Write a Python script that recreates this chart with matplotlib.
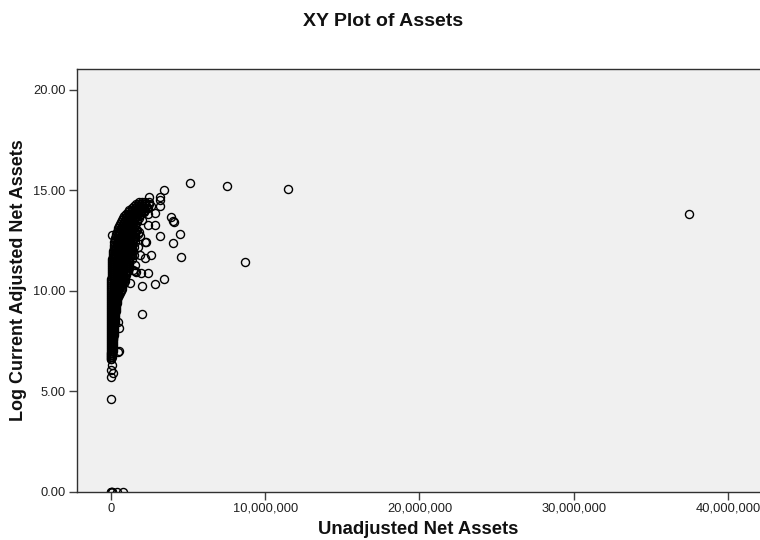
import numpy as np
import matplotlib
matplotlib.use('Agg')
import matplotlib.pyplot as plt
from matplotlib.ticker import FuncFormatter

plt.rcParams['font.family'] = ['Liberation Sans', 'DejaVu Sans']

# dense part of the cloud, read row by row: log value -> net assets in millions
rows = {
    14.4: [1.85, 2.05, 2.25, 2.5],
    14.3: [1.65, 1.85, 2.05, 2.25, 2.45],
    14.2: [1.5, 1.7, 1.9, 2.1, 2.3, 2.6],
    14.1: [1.35, 1.55, 1.75, 1.95, 2.15, 2.35],
    14.0: [1.2, 1.4, 1.6, 1.8, 2.0, 2.2],
    13.9: [1.1, 1.3, 1.5, 1.7, 1.9, 2.1],
    13.8: [0.98, 1.15, 1.35, 1.55, 1.75, 1.95],
    13.7: [0.88, 1.05, 1.25, 1.45, 1.65, 1.85],
    13.6: [0.8, 1.0, 1.2, 1.4, 1.6, 1.8],
    13.5: [0.72, 0.9, 1.1, 1.3, 1.5, 1.7],
    13.4: [0.66, 0.85, 1.05, 1.25, 1.45, 1.7],
    13.3: [0.6, 0.8, 1.0, 1.2, 1.4, 1.6],
    13.2: [0.54, 0.75, 0.95, 1.15, 1.35, 1.6],
    13.1: [0.49, 0.7, 0.9, 1.1, 1.3, 1.5],
    13.0: [0.44, 0.65, 0.85, 1.05, 1.25, 1.45, 1.65],
    12.9: [0.4, 0.6, 0.8, 1.0, 1.2, 1.4, 1.6],
    12.8: [0.36, 0.55, 0.75, 0.95, 1.15, 1.35, 1.55, 1.75],
    12.7: [0.33, 0.5, 0.7, 0.9, 1.1, 1.3, 1.5],
    12.6: [0.3, 0.45, 0.65, 0.85, 1.05, 1.25, 1.45, 1.6],
    12.5: [0.27, 0.45, 0.65, 0.85, 1.05, 1.25, 1.45],
    12.4: [0.24, 0.4, 0.6, 0.8, 1.0, 1.2, 1.4, 1.55],
    12.3: [0.22, 0.4, 0.6, 0.8, 1.0, 1.2, 1.4],
    12.2: [0.2, 0.35, 0.55, 0.75, 0.95, 1.15, 1.35, 1.5],
    12.1: [0.18, 0.35, 0.55, 0.75, 0.95, 1.15, 1.35],
    12.0: [0.16, 0.3, 0.5, 0.7, 0.9, 1.1, 1.3, 1.45],
    11.9: [0.15, 0.3, 0.5, 0.7, 0.9, 1.1, 1.3],
    11.8: [0.13, 0.25, 0.45, 0.65, 0.85, 1.05, 1.25, 1.4],
    11.7: [0.12, 0.25, 0.45, 0.65, 0.85, 1.05, 1.25],
    11.6: [0.11, 0.2, 0.4, 0.6, 0.8, 1.0, 1.2, 1.35],
    11.5: [0.1, 0.2, 0.4, 0.6, 0.8, 1.0, 1.2],
    11.4: [0.09, 0.2, 0.4, 0.6, 0.8, 1.0, 1.2],
    11.3: [0.08, 0.2, 0.4, 0.6, 0.8, 1.0, 1.15],
    11.2: [0.07, 0.2, 0.4, 0.6, 0.8, 1.0, 1.15],
    11.1: [0.07, 0.2, 0.4, 0.6, 0.8, 1.0],
    11.0: [0.06, 0.2, 0.4, 0.6, 0.8, 1.0, 1.1],
    10.9: [0.06, 0.2, 0.4, 0.6, 0.8, 1.0],
    10.8: [0.05, 0.2, 0.4, 0.6, 0.8, 1.0],
    10.7: [0.05, 0.2, 0.4, 0.6, 0.8, 0.95],
    10.6: [0.04, 0.2, 0.4, 0.6, 0.8, 0.95],
    10.5: [0.04, 0.2, 0.4, 0.6, 0.8, 0.9],
    10.4: [0.03, 0.2, 0.4, 0.6, 0.75, 0.85],
    10.3: [0.03, 0.2, 0.4, 0.6, 0.75],
    10.2: [0.03, 0.2, 0.4, 0.55, 0.7],
    10.1: [0.02, 0.2, 0.4, 0.55, 0.7],
    10.0: [0.02, 0.2, 0.35, 0.5, 0.65],
    9.9: [0.02, 0.15, 0.3, 0.45, 0.6],
    9.8: [0.02, 0.15, 0.3, 0.45, 0.55],
    9.7: [0.02, 0.15, 0.3, 0.45],
    9.6: [0.02, 0.15, 0.3, 0.4],
    9.5: [0.02, 0.15, 0.3, 0.4],
    9.4: [0.01, 0.12, 0.25, 0.38],
    9.3: [0.01, 0.12, 0.25, 0.35],
    9.2: [0.01, 0.12, 0.25, 0.35],
    9.1: [0.01, 0.12, 0.25, 0.33],
    9.0: [0.01, 0.12, 0.25, 0.33],
    8.9: [0.01, 0.1, 0.2, 0.3],
    8.8: [0.01, 0.1, 0.2, 0.3],
    8.7: [0.01, 0.1, 0.2, 0.28],
    8.6: [0.01, 0.1, 0.2, 0.28],
    8.5: [0.01, 0.1, 0.18, 0.25],
    8.4: [0.01, 0.1, 0.18, 0.25],
    8.3: [0.01, 0.08, 0.16, 0.24],
    8.2: [0.01, 0.08, 0.16, 0.22],
    8.1: [0.01, 0.08, 0.14, 0.2],
    8.0: [0.01, 0.08, 0.14, 0.2],
    7.9: [0.01, 0.06, 0.12, 0.18],
    7.8: [0.01, 0.06, 0.12, 0.18],
    7.7: [0.01, 0.06, 0.12, 0.16],
    7.6: [0.01, 0.06, 0.12, 0.15],
    7.5: [0.01, 0.05, 0.1, 0.14],
    7.4: [0.01, 0.05, 0.1, 0.14],
    7.3: [0.01, 0.05, 0.1, 0.13],
    7.2: [0.01, 0.05, 0.1, 0.13],
    7.1: [0.01, 0.05, 0.09, 0.12],
    7.0: [0.01, 0.05, 0.09, 0.12],
    6.9: [0.01, 0.04, 0.08, 0.1],
    6.8: [0.01, 0.04, 0.08, 0.1],
    6.7: [0.01, 0.03, 0.06],
    6.6: [0.01, 0.03],
}

# points that can be read one at a time, including the ragged edge of the cloud
single_x = [5.12, 7.56, 11.47, 37.45, 8.68, 4.54, 4.47, 4.0, 4.08, 3.93,
            4.04, 3.45, 3.22, 3.22, 3.22, 2.48, 2.85, 2.38, 2.85, 2.38,
            3.22, 2.27, 2.2, 2.59, 2.2, 1.88, 3.45, 2.85, 2.05, 2.05,
            2.4, 1.99, 1.66, 1.43, 1.25, 0.05, 0.02, 0.03, 0.13, 0.02,
            0.05, 0.45, 0.52, 0.5, 0.52, 1.7, 1.9, 1.75, 1.55, 1.5,
            2.0, 2.15, 2.4, 1.85, 1.6]
single_y = [15.38, 15.21, 15.06, 13.82, 11.41, 11.68, 12.82, 12.36, 13.4, 13.69,
            13.49, 15.01, 14.68, 14.52, 14.23, 14.68, 13.88, 13.8, 13.27, 13.27,
            12.74, 12.41, 12.4, 11.78, 11.61, 11.78, 10.58, 10.32, 10.25, 8.85,
            10.88, 10.87, 10.93, 11.03, 10.38, 12.77, 4.59, 5.72, 5.9, 6.05,
            6.3, 6.96, 7.0, 8.44, 8.14, 13.0, 12.7, 12.2, 11.3, 11.8,
            13.5, 13.9, 14.1, 12.9, 11.0]

# records sitting on the zero line
zero_x = [0.0, 0.03, 0.05, 0.1, 0.4, 0.78]

x_ticks = [0, 10000000, 20000000, 30000000, 40000000]
y_ticks = [0, 5, 10, 15, 20]


def main():
    xs = [v for row in rows.values() for v in row] + single_x + zero_x
    ys = [y for y, row in rows.items() for _ in row] + single_y + [0.0] * len(zero_x)

    fig = plt.figure(figsize=(7.6, 5.4), dpi=100)
    ax = fig.add_axes([76.5 / 760, 1 - 491.5 / 540, 1 - 76.5 / 760, (491.5 - 69) / 540])
    ax.set_facecolor('#f0f0f0')

    ax.plot(np.array(xs) * 1e6, ys, linestyle='none', marker='o', markersize=5.8,
            markerfacecolor='none', markeredgecolor='black', markeredgewidth=1.0)

    ax.set_xlim(-2.22e6, 42.06e6)
    ax.set_ylim(0, 21.04)
    ax.set_xticks(x_ticks)
    ax.set_yticks(y_ticks)
    ax.xaxis.set_major_formatter(FuncFormatter(lambda v, p: f'{v:,.0f}'))
    ax.yaxis.set_major_formatter(FuncFormatter(lambda v, p: f'{v:.2f}'))
    ax.tick_params(length=6, width=1, color='#404040', labelsize=9.3, labelcolor='#202020', pad=2)

    ax.spines['right'].set_visible(False)
    for side in ['left', 'top', 'bottom']:
        ax.spines[side].set_color('#303030')
        ax.spines[side].set_linewidth(1)

    fig.text(383 / 760, 1 - 21 / 540, 'XY Plot of Assets', ha='center', va='center',
             fontsize=14, fontweight='bold', color='#111111')
    fig.text(418 / 760, 1 - 530 / 540, 'Unadjusted Net Assets', ha='center', va='center',
             fontsize=13.3, fontweight='bold', color='#111111')
    fig.text(19 / 760, 1 - 280 / 540, 'Log Current Adjusted Net Assets', rotation=90,
             ha='center', va='center', fontsize=13, fontweight='bold', color='#111111')

    fig.savefig('out.png', dpi=100)


if __name__ == "__main__":
    main()
